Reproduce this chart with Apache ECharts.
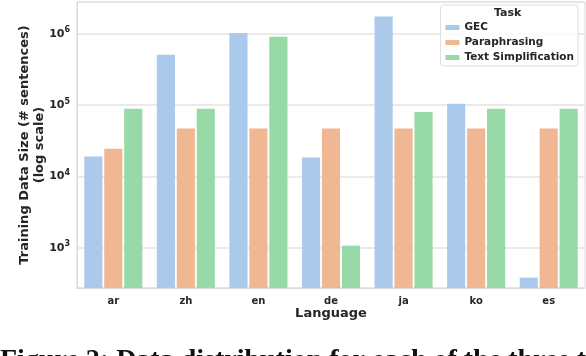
<!DOCTYPE html>
<html>
<head>
<meta charset="utf-8">
<script src="https://cdn.jsdelivr.net/npm/echarts@6/dist/echarts.min.js"></script>
<style>
  html, body { margin: 0; padding: 0; background: #fff; }
  #chart { width: 586px; height: 356px; }
</style>
</head>
<body>
<div id="chart"></div>
<script>
// data (log scale)
const languages = ['ar', 'zh', 'en', 'de', 'ja', 'ko', 'es'];
const taskNames = ['GEC', 'Paraphrasing', 'Text Simplification'];
const gec = [19000, 510000, 1030000, 18500, 1750000, 105000, 380];
const paraphrasing = [24500, 47000, 47000, 47000, 47000, 47000, 47000];
const textSimplification = [89000, 89000, 910000, 1070, 80000, 89000, 89000];
const yMin = 272;
const yMax = 2800000;

const colors = ['#abc9ea', '#efb792', '#98daa7'];
const textColor = '#262626';
const font = 'DejaVu Sans';

const chart = echarts.init(document.getElementById('chart'));

const makeSeries = (name, values, color) => ({
  name: name,
  type: 'bar',
  data: values,
  barCategoryGap: '20%',
  barGap: '10%',
  itemStyle: { color: color },
  emphasis: { disabled: true }
});

chart.setOption({
  animation: false,
  textStyle: { fontFamily: font },
  grid: {
    left: 77,
    right: 1,
    top: 2,
    bottom: 68,
    show: true,
    borderColor: '#d9d9d9',
    borderWidth: 1
  },
  legend: {
    orient: 'vertical',
    right: 8,
    top: 5,
    padding: [17, 4, 3, 5],
    itemWidth: 14,
    itemHeight: 5,
    itemGap: 4,
    backgroundColor: 'rgba(255,255,255,0.85)',
    borderColor: '#dddddd',
    borderWidth: 1,
    borderRadius: 3,
    data: taskNames,
    icon: 'rect',
    textStyle: { color: textColor, fontWeight: 'bold', fontSize: 10.5, fontFamily: font }
  },
  xAxis: {
    type: 'category',
    data: languages,
    name: 'Language',
    nameLocation: 'middle',
    nameGap: 19,
    nameMoveOverlap: false,
    nameTextStyle: { color: textColor, fontWeight: 'bold', fontSize: 13 },
    axisLine: { show: true, lineStyle: { color: '#d9d9d9' } },
    axisTick: { show: false },
    axisLabel: { color: textColor, fontWeight: 'bold', fontSize: 10, margin: 8 }
  },
  yAxis: {
    type: 'log',
    logBase: 10,
    min: yMin,
    max: yMax,
    name: 'Training Data Size (# sentences)\n(log scale)',
    nameLocation: 'middle',
    nameGap: 30,
    nameMoveOverlap: false,
    nameTextStyle: { color: textColor, fontWeight: 'bold', fontSize: 13, lineHeight: 15 },
    axisLine: { show: true, lineStyle: { color: '#d9d9d9' } },
    axisTick: { show: false },
    splitLine: { show: true, lineStyle: { color: '#e3e3e3', width: 1.5 } },
    axisLabel: {
      showMinLabel: false,
      showMaxLabel: false,
      margin: 7,
      formatter: function (v) {
        const e = Math.log10(v);
        if (Math.abs(e - Math.round(e)) > 1e-6) return '';
        return '{b|10}{s|' + Math.round(e) + '}';
      },
      rich: {
        b: { color: textColor, fontWeight: 'bold', fontSize: 11, fontFamily: font },
        s: { color: textColor, fontWeight: 'bold', fontSize: 8, fontFamily: font, padding: [0, 0, 7, 0] }
      }
    }
  },
  graphic: [
    {
      type: 'text',
      left: 494,
      top: 8,
      z: 100,
      style: { text: 'Task', fill: textColor, font: 'bold 11px "DejaVu Sans"', textAlign: 'center' }
    },
    {
      // caption of the paper figure, cut off by the bottom edge
      type: 'text',
      left: 0,
      top: 347,
      style: {
        text: 'Figure 2: Data distribution for each of the three tasks',
        fill: '#111',
        font: 'bold 28px "Liberation Serif"'
      }
    }
  ],
  series: [
    makeSeries(taskNames[0], gec, colors[0]),
    makeSeries(taskNames[1], paraphrasing, colors[1]),
    makeSeries(taskNames[2], textSimplification, colors[2])
  ]
});
</script>
</body>
</html>
